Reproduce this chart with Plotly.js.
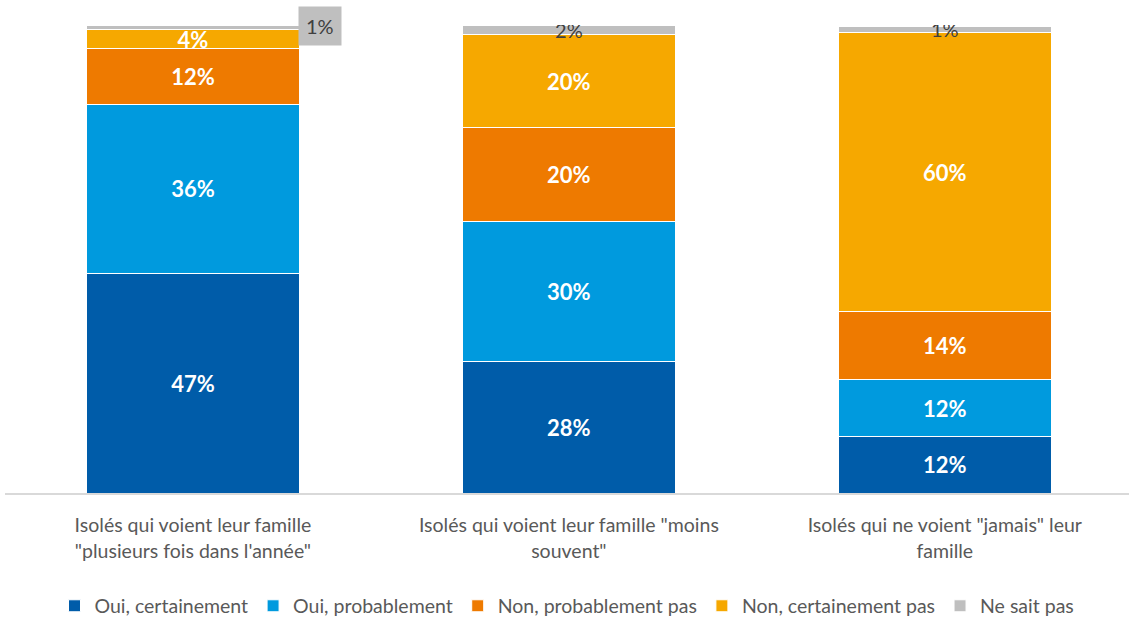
<!DOCTYPE html>
<html>
<head>
<meta charset="utf-8">
<script src="https://cdn.plot.ly/plotly-3.0.1.min.js"></script>
<style>html,body{margin:0;padding:0;background:#fff;}#chart{width:1129px;height:621px;}</style>
</head>
<body>
<div id="chart"></div>
<script>
const categories = [
  'Isolés qui voient leur famille<br>"plusieurs fois dans l\'année"',
  'Isolés qui voient leur famille "moins<br>souvent"',
  'Isolés qui ne voient "jamais" leur<br>famille'
];
const seriesNames = ['Oui, certainement', 'Oui, probablement', 'Non, probablement pas', 'Non, certainement pas', 'Ne sait pas'];
const ouiCertainement = [47, 28, 12];
const ouiProbablement = [36, 30, 12.3];
const nonProbablementPas = [12, 20, 14.4];
const nonCertainementPas = [4, 20, 59.7];
const neSaitPas = [1, 2, 1.3];
const colors = ['#005CA9', '#009ADE', '#EE7A00', '#F6A800', '#BFBFBF'];

const font = 'Lato, "Open Sans", sans-serif';
const allSeries = [ouiCertainement, ouiProbablement, nonProbablementPas, nonCertainementPas, neSaitPas];

const traces = allSeries.map((vals, k) => {
  const isGray = k === 4;
  return {
    type: 'bar',
    name: seriesNames[k],
    x: categories,
    y: vals,
    marker: {color: colors[k], line: {color: '#ffffff', width: 1}},
    text: vals.map((v, i) => (isGray && i === 0) ? '' : Math.round(v) + '%'),
    textposition: 'inside',
    insidetextanchor: 'middle',
    constraintext: 'none',
    textangle: 0,
    textfont: isGray
      ? {family: font, size: 20, color: '#404040'}
      : {family: font, size: 22, color: '#ffffff', weight: 'bold'},
    hoverinfo: 'name+y'
  };
});

const layout = {
  width: 1129, height: 621,
  margin: {l: 5, r: 0, t: 25, b: 128, autoexpand: false},
  barmode: 'stack',
  bargap: 0.433,
  paper_bgcolor: '#ffffff',
  plot_bgcolor: '#ffffff',
  font: {family: font, color: '#595959', size: 19.5},
  showlegend: true,
  legend: {
    orientation: 'h', traceorder: 'normal',
    x: 0.5, xanchor: 'center',
    yref: 'container', y: 0.024, yanchor: 'middle',
    font: {family: font, size: 19.5, color: '#595959'},
    itemwidth: 30, tracegroupgap: 0
  },
  xaxis: {
    type: 'category',
    range: [-0.5, 2.49],
    showline: true, linecolor: '#D9D9D9', linewidth: 2,
    ticks: '', showgrid: false, zeroline: false,
    ticklabelstandoff: 14,
    automargin: false,
    tickfont: {family: font, size: 19.5, color: '#595959'},
    fixedrange: true
  },
  yaxis: {
    range: [0, 100], visible: false, showgrid: false, zeroline: false, fixedrange: true
  },
  annotations: [{
    x: categories[0], y: 99.7, xref: 'x', yref: 'y',
    xshift: 127,
    text: Math.round(neSaitPas[0]) + '%', showarrow: false,
    bgcolor: '#BFBFBF', borderpad: 7,
    font: {family: font, size: 20, color: '#404040'}
  }]
};

Plotly.newPlot('chart', traces, layout, {displayModeBar: false, staticPlot: true});
</script>
</body>
</html>
